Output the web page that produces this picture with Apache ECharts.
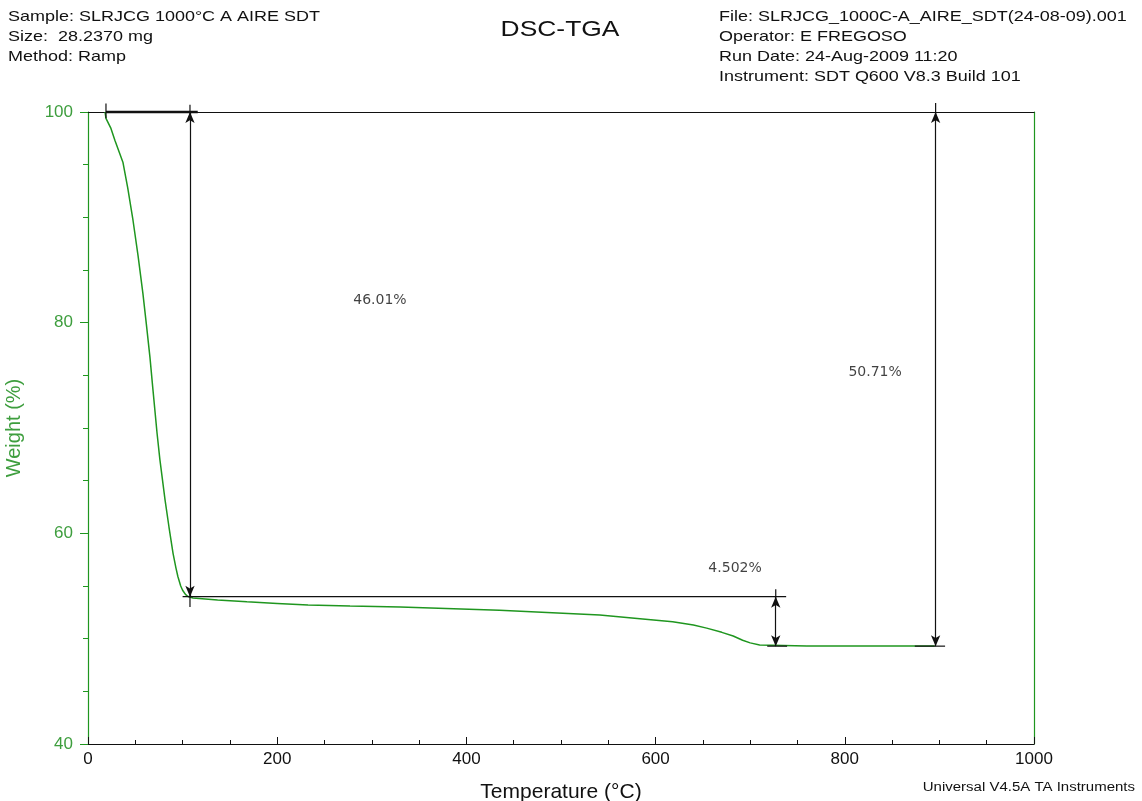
<!DOCTYPE html>
<html>
<head>
<meta charset="utf-8">
<script src="https://cdn.jsdelivr.net/npm/echarts@6/dist/echarts.min.js"></script>
<style>
html,body{margin:0;padding:0;background:#fff;}
#chart{width:1142px;height:801px;}
</style>
</head>
<body>
<div id="chart"></div>
<script>
// ---- data ----
const tempC = [18, 19, 24, 28.5, 37, 42, 47.6, 53, 58, 62, 65.5, 68.7, 73, 76, 81.4, 85.6, 89.9, 93, 95, 98, 100, 103, 105.7,
  111, 137, 168, 200, 232.6, 277, 330, 435, 541, 583.5, 618, 640, 654, 670, 682, 692, 700, 710, 760, 830, 895];
const weightPct = [100, 99.4, 98.5, 97.3, 95.2, 92.8, 89.7, 86.3, 82.8, 79.6, 76.7, 73.6, 69.5, 67.0, 63.2, 60.6, 58.1, 56.7, 55.9, 55.0, 54.6, 54.2, 54.0,
  53.86, 53.67, 53.5, 53.35, 53.2, 53.1, 53.0, 52.7, 52.25, 51.9, 51.6, 51.3, 51.0, 50.6, 50.25, 49.85, 49.6, 49.4, 49.3, 49.3, 49.3];

// step-change annotations
const stepLevels = [100, 53.99, 49.29];
const stepLabels = ['46.01%', '4.502%', '50.71%'];
const arrowTemps = [107.8, 727, 896];
const labelTemps = [308.6, 684, 832];
const labelWeights = [82.15, 56.7, 75.3];
const hLineStarts = [19, 100, 718, 874];
const hLineEnds = [116, 738, 739, 906];

const xTicks = [0, 200, 400, 600, 800, 1000];
const yTicks = [40, 60, 80, 100];

const headerLeft = ['Sample: SLRJCG 1000°C A AIRE SDT', 'Size:  28.2370 mg', 'Method: Ramp'];
const headerRight = ['File: SLRJCG_1000C-A_AIRE_SDT(24-08-09).001', 'Operator: E FREGOSO',
  'Run Date: 24-Aug-2009 11:20', 'Instrument: SDT Q600 V8.3 Build 101'];
const chartTitle = 'DSC-TGA';
const footer = 'Universal V4.5A TA Instruments';

// ---- chart ----
const GREEN = '#1f961f';
const LABEL_GREEN = '#3e9e3e';
const FONT = 'Liberation Sans, Arial, sans-serif';
const WIDE = 'DejaVu Sans, sans-serif';

const curve = tempC.map((t, i) => [t, weightPct[i]]);
const lineStyleBlack = { color: '#111', width: 1.2, type: 'solid' };

const arrowLines = [
  [{ coord: [arrowTemps[0], stepLevels[0]] }, { coord: [arrowTemps[0], stepLevels[1]] }],
  [{ coord: [arrowTemps[1], stepLevels[1]] }, { coord: [arrowTemps[1], stepLevels[2]] }],
  [{ coord: [arrowTemps[2], stepLevels[0]] }, { coord: [arrowTemps[2], stepLevels[2]] }]
];

const plainLines = [
  [[hLineStarts[0], stepLevels[0]], [hLineEnds[0], stepLevels[0]]],
  [[hLineStarts[1], stepLevels[1]], [hLineEnds[1], stepLevels[1]]],
  [[hLineStarts[2], stepLevels[2]], [hLineEnds[2], stepLevels[2]]],
  [[hLineStarts[3], stepLevels[2]], [hLineEnds[3], stepLevels[2]]],
  [[19, 100.8], [19, 99.4]],
  [[arrowTemps[0], 100.7], [arrowTemps[0], 99.3]],
  [[arrowTemps[0], 54.6], [arrowTemps[0], 53.0]],
  [[arrowTemps[1], 54.7], [arrowTemps[1], 53.3]],
  [[arrowTemps[2], 100.85], [arrowTemps[2], 99.3]]
];

const series = [
  {
    type: 'line',
    data: curve,
    showSymbol: false,
    smooth: false,
    lineStyle: { color: GREEN, width: 1.5 },
    z: 3,
    silent: true,
    animation: false
  },
  {
    type: 'line',
    data: [],
    silent: true,
    animation: false,
    markLine: {
      silent: true,
      animation: false,
      symbol: ['arrow', 'arrow'],
      symbolSize: [7, 11],
      lineStyle: lineStyleBlack,
      label: { show: false },
      data: arrowLines
    }
  }
];

plainLines.forEach((seg, i) => {
  series.push({
    type: 'line',
    data: seg,
    showSymbol: false,
    clip: false,
    silent: true,
    animation: false,
    lineStyle: { color: '#111', width: i === 0 ? 2.4 : 1.2 },
    z: 4
  });
});

series.push({
  type: 'scatter',
  data: labelTemps.map((t, i) => [t, labelWeights[i], stepLabels[i]]),
  symbolSize: 0,
  silent: true,
  animation: false,
  label: {
    show: true,
    position: 'inside',
    formatter: p => p.data[2],
    color: '#111',
    fontFamily: WIDE,
    fontSize: 14
  }
});

const graphics = [];
headerLeft.forEach((s, i) => graphics.push({
  type: 'text', x: 8, y: 9 + i * 20, scaleX: 1.24,
  style: { text: s, fill: '#111', font: '14.5px ' + FONT }
}));
headerRight.forEach((s, i) => graphics.push({
  type: 'text', x: 719, y: 9 + i * 20, scaleX: 1.24,
  style: { text: s, fill: '#111', font: '14.5px ' + FONT }
}));
graphics.push({
  type: 'text', x: 560, y: 19, scaleX: 1.2, originX: 0,
  style: { text: chartTitle, fill: '#111', font: '22px ' + FONT, textAlign: 'center' }
});
graphics.push({
  type: 'text', x: 1135, y: 781, scaleX: 1.2,
  style: { text: footer, fill: '#111', font: '12.5px ' + FONT, textAlign: 'right' }
});

const chart = echarts.init(document.getElementById('chart'), null, { renderer: 'canvas' });
chart.setOption({
  backgroundColor: '#fff',
  animation: false,
  graphic: graphics,
  grid: { left: 88, right: 108, top: 112, bottom: 57, containLabel: false, outerBoundsMode: 'none' },
  xAxis: [
    {
      type: 'value', min: 0, max: 1000, interval: 200, position: 'bottom',
      name: 'Temperature (°C)', nameLocation: 'middle', nameGap: 38,
      nameTextStyle: { fontFamily: FONT, fontSize: 21, color: '#111' },
      axisLine: { show: true, onZero: false, lineStyle: { color: '#111', width: 1.2 } },
      axisTick: { show: true, inside: true, length: 7, lineStyle: { color: '#111' } },
      minorTick: { show: true, splitNumber: 4, length: 4, lineStyle: { color: '#111' } },
      axisLabel: { color: '#111', fontFamily: FONT, fontSize: 17, margin: 7,
        formatter: v => xTicks.includes(v) ? String(v) : '' },
      splitLine: { show: false }
    },
    {
      type: 'value', min: 0, max: 1000, position: 'top',
      axisLine: { show: true, onZero: false, lineStyle: { color: '#111', width: 1.2 } },
      axisTick: { show: false }, axisLabel: { show: false }, splitLine: { show: false }
    }
  ],
  yAxis: [
    {
      type: 'value', min: 40, max: 100, interval: 20, position: 'left',
      name: 'Weight (%)', nameLocation: 'middle', nameGap: 64, nameRotate: 90, nameMoveOverlap: false,
      nameTextStyle: { fontFamily: FONT, fontSize: 20, color: LABEL_GREEN },
      axisLine: { show: true, onZero: false, lineStyle: { color: GREEN, width: 1.2 } },
      axisTick: { show: true, inside: false, length: 8, lineStyle: { color: GREEN } },
      minorTick: { show: true, splitNumber: 4, length: 5, lineStyle: { color: GREEN } },
      axisLabel: { color: LABEL_GREEN, fontFamily: FONT, fontSize: 17, margin: 15,
        formatter: v => yTicks.includes(v) ? String(v) : '' },
      splitLine: { show: false }
    },
    {
      type: 'value', min: 40, max: 100, position: 'right',
      axisLine: { show: true, onZero: false, lineStyle: { color: GREEN, width: 1.2 } },
      axisTick: { show: false }, axisLabel: { show: false }, splitLine: { show: false }
    }
  ],
  series: series
});
</script>
</body>
</html>
